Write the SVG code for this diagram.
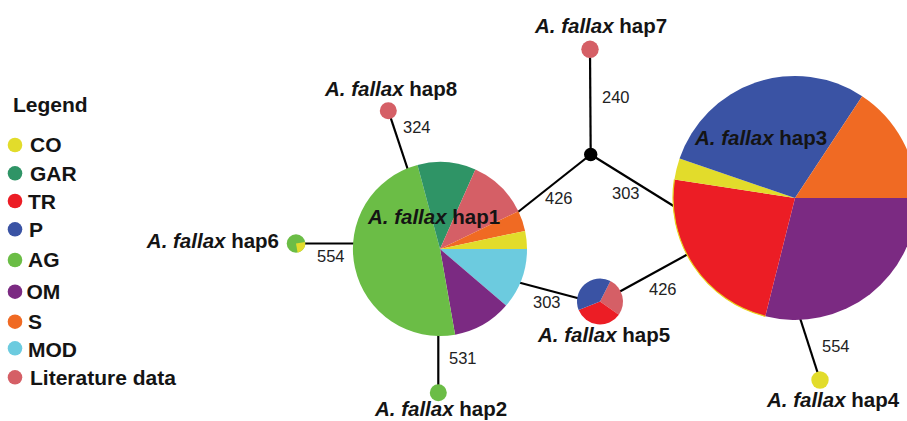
<svg xmlns="http://www.w3.org/2000/svg" width="907" height="421" viewBox="0 0 907 421">
<style>
.lbl{font-family:"Liberation Sans",Arial,sans-serif;font-weight:bold;font-size:20.5px;fill:#141414}
.it{font-style:italic}
.num{font-family:"Liberation Sans",Arial,sans-serif;font-size:16.5px;fill:#222}
.leg{font-family:"Liberation Sans",Arial,sans-serif;font-weight:bold;font-size:21px;fill:#141414}
.ln{stroke:#000;stroke-width:2.2;fill:none}
.co{fill:#e2dc2b}.gar{fill:#2f9466}.tr{fill:#ec1d25}.p{fill:#3a53a4}.ag{fill:#6bbd46}.om{fill:#7b2a82}.s{fill:#f06a23}.mod{fill:#6ccbdf}.lit{fill:#d55f66}
</style>
<rect width="907" height="421" fill="#fff"/>
<g id="legend">
<text class="leg" x="13" y="112">Legend</text>
<circle class="co" cx="15" cy="145" r="7.3"/><text class="leg" x="30" y="152">CO</text>
<circle class="gar" cx="15" cy="173.3" r="7.3"/><text class="leg" x="30" y="181">GAR</text>
<circle class="tr" cx="15" cy="201" r="7.3"/><text class="leg" x="28" y="208.5">TR</text>
<circle class="p" cx="15" cy="229.3" r="7.3"/><text class="leg" x="29" y="237">P</text>
<circle class="ag" cx="15" cy="260" r="7.3"/><text class="leg" x="28" y="267">AG</text>
<circle class="om" cx="15" cy="291.7" r="7.3"/><text class="leg" x="26.5" y="299">OM</text>
<circle class="s" cx="15" cy="321.7" r="7.3"/><text class="leg" x="28" y="328.5">S</text>
<circle class="mod" cx="15" cy="348.3" r="7.3"/><text class="leg" x="28" y="357">MOD</text>
<circle class="lit" cx="15" cy="377.3" r="7.3"/><text class="leg" x="30" y="385">Literature data</text>
</g>
<g id="connectors">
<line class="ln" x1="388.3" y1="110.7" x2="408" y2="170"/>
<line class="ln" x1="296" y1="243.5" x2="356" y2="243.5"/>
<line class="ln" x1="438.3" y1="392.7" x2="438.3" y2="333"/>
<line class="ln" x1="518" y1="212" x2="590.7" y2="154.5"/>
<line class="ln" x1="590.7" y1="154.5" x2="676" y2="207.5"/>
<line class="ln" x1="590.7" y1="154.5" x2="590" y2="49.3"/>
<line class="ln" x1="518" y1="282.2" x2="582" y2="299.3"/>
<line class="ln" x1="619" y1="292" x2="690" y2="253" stroke-width="3.5"/>
<line class="ln" x1="800" y1="318" x2="820" y2="380"/>
<text class="num" x="403" y="133">324</text>
<text class="num" x="602" y="103">240</text>
<text class="num" x="545" y="204">426</text>
<text class="num" x="612" y="199">303</text>
<text class="num" x="317" y="262">554</text>
<text class="num" x="533" y="308">303</text>
<text class="num" x="649" y="295">426</text>
<text class="num" x="449" y="364">531</text>
<text class="num" x="822" y="352">554</text>
</g>
<g id="junction"><circle cx="590.7" cy="154.5" r="6.7" fill="#000"/></g>
<g id="hap1">
<path class="mod" d="M440 249 L527 249 A87 87 0 0 1 506.06 305.62Z"/>
<path class="om" d="M440 249 L506.06 305.62 A87 87 0 0 1 455.11 334.68Z"/>
<path class="ag" d="M440 249 L455.11 334.68 A87 87 0 0 1 417.48 164.96Z"/>
<path class="gar" d="M440 249 L417.48 164.96 A87 87 0 0 1 475.39 169.52Z"/>
<path class="lit" d="M440 249 L475.39 169.52 A87 87 0 0 1 518.39 211.27Z"/>
<path class="s" d="M440 249 L518.39 211.27 A87 87 0 0 1 525.10 230.91Z"/>
<path class="co" d="M440 249 L525.10 230.91 A87 87 0 0 1 527 249Z"/>
<text class="lbl" x="368" y="224"><tspan class="it">A. fallax</tspan> hap1</text>
</g>
<g id="hap3">
<path class="om" d="M795 198 L917 198 A122 122 0 0 1 765.28 316.32Z"/>
<path class="tr" d="M795 198 L765.28 316.32 A122 122 0 0 1 674.40 179.55Z"/>
<path d="M765.28 316.32 A122 122 0 0 1 674.40 179.55" fill="none" stroke="#e8d21c" stroke-width="1.2"/>
<path class="co" d="M795 198 L674.40 179.55 A122 122 0 0 1 679.58 158.48Z"/>
<path class="p" d="M795 198 L679.58 158.48 A122 122 0 0 1 862.16 96.15Z"/>
<path class="s" d="M795 198 L862.16 96.15 A122 122 0 0 1 917 198Z"/>
<text class="lbl" x="695" y="145"><tspan class="it">A. fallax</tspan> hap3</text>
</g>
<g id="hap5">
<path class="lit" d="M600 301.5 L610.44 281.01 A23 23 0 0 1 618.84 314.69Z"/>
<path class="tr" d="M600 301.5 L618.84 314.69 A23 23 0 0 1 578.67 310.12Z"/>
<path class="p" d="M600 301.5 L578.67 310.12 A23 23 0 0 1 610.44 281.01Z"/>
<text class="lbl" x="538" y="342"><tspan class="it">A. fallax</tspan> hap5</text>
</g>
<g id="hap6">
<circle class="ag" cx="296" cy="243.5" r="9.3"/>
<path class="co" d="M296 243.5 L305.16 241.89 A9.3 9.3 0 0 1 297.61 252.66Z"/>
<text class="lbl" x="279" y="248" text-anchor="end"><tspan class="it">A. fallax</tspan> hap6</text>
</g>
<g id="hap7">
<circle class="lit" cx="590" cy="49.3" r="8.7"/>
<text class="lbl" x="535" y="33"><tspan class="it">A. fallax</tspan> hap7</text>
</g>
<g id="hap8">
<circle class="lit" cx="388.3" cy="110.7" r="8.5"/>
<text class="lbl" x="325" y="96"><tspan class="it">A. fallax</tspan> hap8</text>
</g>
<g id="hap2">
<circle class="ag" cx="438.3" cy="392.7" r="8.5"/>
<text class="lbl" x="375" y="416"><tspan class="it">A. fallax</tspan> hap2</text>
</g>
<g id="hap4">
<circle class="co" cx="820" cy="380" r="8.7"/>
<text class="lbl" x="767" y="407"><tspan class="it">A. fallax</tspan> hap4</text>
</g>
</svg>
